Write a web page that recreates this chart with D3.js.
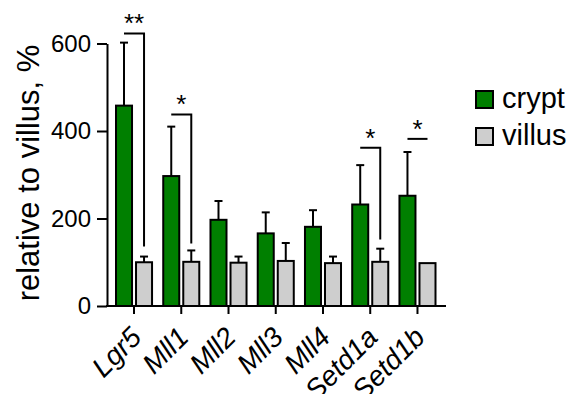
<!DOCTYPE html>
<html>
<head>
<meta charset="utf-8">
<script src="https://cdn.jsdelivr.net/npm/d3@7"></script>
<style>
  html, body { margin: 0; padding: 0; background: #fff; }
  svg text { font-family: "Liberation Sans", Arial, sans-serif; fill: #000; }
</style>
</head>
<body>
<svg id="chart" width="576" height="394"></svg>
<script>
const categories = ["Lgr5", "Mll1", "Mll2", "Mll3", "Mll4", "Setd1a", "Setd1b"];
const seriesNames = ["crypt", "villus"];
const cryptMean = [458, 297, 197, 166, 181, 232, 252];
const cryptErr = [144, 113, 43, 48, 38, 90, 100];
const villusMean = [100, 101, 99, 103, 98, 101, 98];
const villusErr = [13, 26, 14, 41, 15, 30, 0];
const yTicks = [0, 200, 400, 600];
const sigCategories = ["Lgr5", "Mll1", "Setd1a", "Setd1b"];
const sigLabels = ["**", "*", "*", "*"];
const sigHeight = [623, 438, 362, 382];
const sigDrop = [136, 143, 152, null];
const colors = { crypt: "#007f00", villus: "#cecece" };

const svg = d3.select("#chart");
const x0 = d3.scaleBand().domain(categories).range([116, 435.5]).paddingInner(0.237).paddingOuter(0);
const x1 = d3.scaleBand().domain(seriesNames).range([0, x0.bandwidth()]).paddingInner(0.2);
const y = d3.scaleLinear().domain([0, 600]).range([306, 43.5]);

const rows = categories.map((c, i) => ({
  cat: c,
  vals: [
    { s: "crypt", m: cryptMean[i], e: cryptErr[i] },
    { s: "villus", m: villusMean[i], e: villusErr[i] }
  ]
}));

const g = svg.append("g");
rows.forEach(r => {
  r.vals.forEach(v => {
    const cx = x0(r.cat) + x1(v.s) + x1.bandwidth() / 2;
    if (v.e > 0) {
      g.append("line").attr("x1", cx).attr("x2", cx).attr("y1", y(v.m)).attr("y2", y(v.m + v.e))
        .attr("stroke", "#000").attr("stroke-width", 2);
      g.append("line").attr("x1", cx - 4).attr("x2", cx + 4).attr("y1", y(v.m + v.e)).attr("y2", y(v.m + v.e))
        .attr("stroke", "#000").attr("stroke-width", 2);
    }
  });
});

rows.forEach(r => {
  g.selectAll(null).data(r.vals).enter().append("rect")
    .attr("x", d => x0(r.cat) + x1(d.s))
    .attr("y", d => y(d.m))
    .attr("width", x1.bandwidth())
    .attr("height", d => y(0) - y(d.m))
    .attr("fill", d => colors[d.s])
    .attr("stroke", "#000")
    .attr("stroke-width", 2);
});

const yAxis = d3.axisLeft(y).tickValues(yTicks).tickSize(10).tickPadding(6).tickSizeOuter(0);
const ya = svg.append("g").attr("transform", "translate(107,0)").call(yAxis);
ya.select(".domain").attr("stroke", "#000").attr("stroke-width", 2);
ya.selectAll(".tick line").attr("stroke", "#000").attr("stroke-width", 2);
ya.selectAll(".tick text").attr("font-size", 24).attr("font-family", "Liberation Sans, Arial, sans-serif");

const xAxis = d3.axisBottom(x0).tickSize(8).tickSizeOuter(0);
const xa = svg.append("g").attr("transform", "translate(0,306)").call(xAxis);
xa.select(".domain").remove();
xa.append("line").attr("x1", 106).attr("x2", 446).attr("y1", 0).attr("y2", 0).attr("stroke", "#000").attr("stroke-width", 2);
xa.selectAll(".tick line").attr("stroke", "#000").attr("stroke-width", 2);
xa.selectAll(".tick text")
  .attr("font-size", 28)
  .attr("font-style", "italic")
  .attr("font-family", "Liberation Sans, Arial, sans-serif")
  .attr("text-anchor", "end")
  .attr("dy", null)
  .attr("y", null)
  .attr("transform", "translate(9,33) rotate(-45)");

svg.append("text")
  .attr("transform", "translate(39,173) rotate(-90)")
  .attr("text-anchor", "middle")
  .attr("font-size", 31)
  .text("relative to villus, %");

sigCategories.forEach((c, i) => {
  const xl = x0(c) + x1("crypt") + x1.bandwidth() / 2;
  const xr = x0(c) + x1("villus") + x1.bandwidth() / 2;
  const yy = y(sigHeight[i]);
  const path = d3.path();
  path.moveTo(xl, yy);
  path.lineTo(xr, yy);
  if (sigDrop[i] !== null) path.lineTo(xr, y(sigDrop[i]));
  svg.append("path").attr("d", path.toString()).attr("fill", "none").attr("stroke", "#000").attr("stroke-width", 2);
  svg.append("text")
    .attr("x", (xl + xr) / 2).attr("y", yy - 1)
    .attr("text-anchor", "middle")
    .attr("font-size", 26)
    .text(sigLabels[i]);
});

const leg = svg.append("g");
seriesNames.forEach((s, i) => {
  const yy = 91 + i * 37;
  leg.append("rect").attr("x", 476).attr("y", yy).attr("width", 17).attr("height", 17)
    .attr("fill", colors[s]).attr("stroke", "#000").attr("stroke-width", 2);
  leg.append("text").attr("x", 502).attr("y", yy + 17).attr("font-size", 29).text(s);
});
</script>
</body>
</html>
